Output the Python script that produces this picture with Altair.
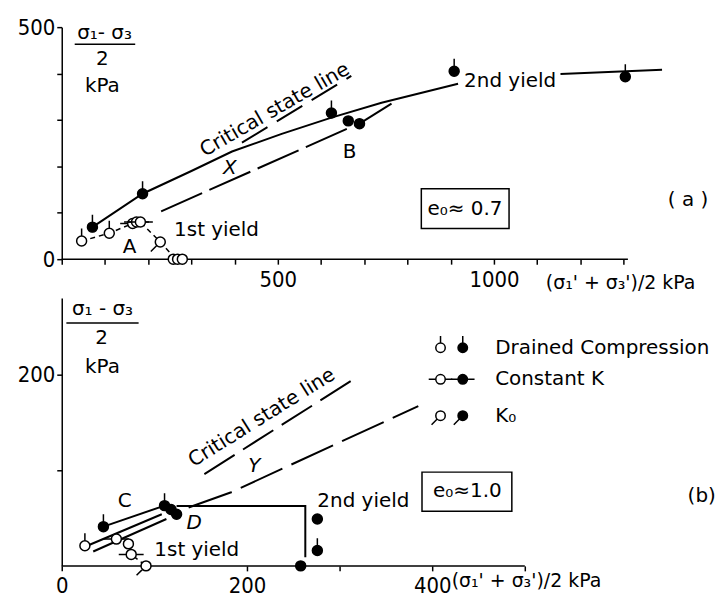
import altair as alt
import pandas as pd

TEXT_FONT = "DejaVu Sans"
NUM_FONT = "DejaVu Sans Condensed"

# Symbol outlines: unit circle plus the stem that marks the test path
CIRCLE = "M-1,0A1,1,0,1,1,1,0A1,1,0,1,1,-1,0Z"
SHAPE_KEYS = ["drained", "constK", "k0", "plain"]
SHAPE_PATHS = [
    CIRCLE + "M0,-1L0,-2.5",                 # drained compression
    CIRCLE + "M-2.5,0L-1,0M1,0L2.5,0",       # constant K
    CIRCLE + "M-0.7,0.7L-1.9,1.9",           # K0
    CIRCLE,
]

# ---------------- panel (a): e0 ~ 0.7 ----------------
A_PT_X = [71, 187, 624, 663, 689, 908, 1304, 46, 110, 164, 173, 182, 228, 258, 268, 279]
A_PT_Y = [69, 141, 315, 298, 292, 405, 393, 39, 56, 77, 80, 80, 37, 0, 0, 0]
A_PT_KIND = ["drained", "drained", "drained", "plain", "plain", "drained", "drained",
             "drained", "drained", "constK", "constK", "constK", "k0", "plain", "plain", "plain"]
A_PT_FILL = ["solid"] * 7 + ["open"] * 9

A_PATH_X = [71, 187, 300, 394, 509, 624, 740, 917]
A_PATH_Y = [69, 141, 190, 232, 270, 305, 337, 378]
A_B_X = [689, 763]
A_B_Y = [292, 335]
A_END_X = [1154, 1389]
A_END_Y = [399, 408]
A_Y1_X = [46, 110, 164, 182, 228, 262]
A_Y1_Y = [39, 56, 77, 80, 37, 2]
A_CSL_X = [417, 670]
A_CSL_Y = [251, 395]
A_XL_X = [230, 687]
A_XL_Y = [103, 292]

A_X_TICKS = list(range(0, 1400, 100))
A_X_LABELS = [500, 1000]
A_Y_TICKS = [0, 100, 200, 300, 400, 500]
A_Y_LABELS = [0, 500]

# ---------------- panel (b): e0 ~ 1.0 ----------------
B_PT_X = [45, 111, 118, 124, 276, 276, 258, 25, 59, 72, 75, 91]
B_PT_Y = [41, 63, 59, 54, 49, 16, 0, 21, 28, 23, 12, 0]
B_PT_KIND = ["drained", "drained", "plain", "plain", "plain", "drained", "plain",
             "drained", "constK", "plain", "constK", "k0"]
B_PT_FILL = ["solid"] * 7 + ["open"] * 5

B_C_X = [45, 111]
B_C_Y = [41, 63]
B_LOW1_X = [25, 108]
B_LOW1_Y = [20, 54]
B_LOW2_X = [34, 113]
B_LOW2_Y = [15, 49]
B_RECT_X = [124, 263, 263]
B_RECT_Y = [62.5, 62.5, 9]
B_Y1_X = [59, 72, 75, 91]
B_Y1_Y = [28, 23, 12, 0]
B_YL_X = [137, 183, 385]
B_YL_Y = [61, 77, 167]
B_CSL_X = [154, 320]
B_CSL_Y = [96, 198]

B_X_TICKS = [0, 200, 300, 400, 500]
B_X_LABELS = [0, 200, 400]
B_Y_TICKS = [100, 200]
B_Y_LABELS = [200]

LEG_TEXT = ["Drained Compression", "Constant K", "K\u2080"]
LEG_KIND = ["drained", "constK", "k0"]
LEG_Y = [228, 195, 157]


def make_axis(values, shown, domain):
    return alt.Axis(values=values, format="d", title=None, grid=False, domain=domain,
                    labelExpr=f"indexof({shown}, datum.value) >= 0 ? datum.label : ''",
                    labelFlush=False, labelOverlap=False)


def points_layer(xs, ys, kinds, fills, xe, ye, size=100):
    df = pd.DataFrame({"x": xs, "y": ys, "kind": kinds, "fill": fills})
    return alt.Chart(df).mark_point(filled=True, size=size, opacity=1, stroke="black",
                                    strokeWidth=1.5).encode(
        x=xe, y=ye,
        shape=alt.Shape("kind:N", scale=alt.Scale(domain=SHAPE_KEYS, range=SHAPE_PATHS), legend=None),
        fill=alt.Fill("fill:N", scale=alt.Scale(domain=["open", "solid"], range=["white", "black"]),
                      legend=None),
    )


def line_layer(xs, ys, xe, ye, dash=None, width=2):
    df = pd.DataFrame({"x": xs, "y": ys, "i": list(range(len(xs)))})
    kw = dict(color="black", strokeWidth=width)
    if dash:
        kw["strokeDash"] = dash
    return alt.Chart(df).mark_line(**kw).encode(x=xe, y=ye, order="i:Q")


def text_layer(texts, xs, ys, xe, ye, align="center", size=20, angle=None, italic=False):
    df = pd.DataFrame({"x": xs, "y": ys, "t": texts})
    kw = dict(align=align, baseline="middle", font=TEXT_FONT, fontSize=size, color="black")
    if angle is not None:
        kw["angle"] = angle
    if italic:
        kw["fontStyle"] = "italic"
    return alt.Chart(df).mark_text(**kw).encode(x=xe, y=ye, text="t:N")


def rule_layer(x1, x2, y, xe, ye, width=1.5):
    df = pd.DataFrame({"x": [x1], "x2": [x2], "y": [y]})
    return alt.Chart(df).mark_rule(color="black", strokeWidth=width).encode(
        x=xe, x2=alt.X2("x2:Q"), y=ye)


def box_layer(x1, x2, y1, y2, xe, ye):
    df = pd.DataFrame({"x": [x1], "x2": [x2], "y": [y1], "y2": [y2]})
    return alt.Chart(df).mark_rect(fillOpacity=0, stroke="black", strokeWidth=1.5).encode(
        x=xe, x2=alt.X2("x2:Q"), y=ye, y2=alt.Y2("y2:Q"))


# ---- panel (a) ----
xa = alt.X("x:Q", scale=alt.Scale(domain=[0, 1500], nice=False, zero=False),
           axis=make_axis(A_X_TICKS, A_X_LABELS, False))
ya = alt.Y("y:Q", scale=alt.Scale(domain=[0, 500], nice=False, zero=False),
           axis=make_axis(A_Y_TICKS, A_Y_LABELS, True))

panel_a = alt.layer(
    rule_layer(0, 1310, 0, xa, ya),
    line_layer(A_PATH_X, A_PATH_Y, xa, ya),
    line_layer(A_B_X, A_B_Y, xa, ya),
    line_layer(A_END_X, A_END_Y, xa, ya),
    line_layer(A_Y1_X, A_Y1_Y, xa, ya, dash=[5, 4], width=1.5),
    line_layer(A_CSL_X, A_CSL_Y, xa, ya, dash=[30, 11]),
    line_layer(A_XL_X, A_XL_Y, xa, ya, dash=[45, 8]),
    points_layer(A_PT_X, A_PT_Y, A_PT_KIND, A_PT_FILL, xa, ya),
    text_layer(["Critical state line"], [493], [322], xa, ya, angle=330),
    text_layer(["X"], [389], [197], xa, ya, italic=True),
    text_layer(["A", "B"], [157, 666], [26, 230], xa, ya),
    text_layer(["1st yield", "2nd yield"], [260, 931], [62, 384], xa, ya, align="left"),
    text_layer(["( a )"], [1449], [127], xa, ya),
    box_layer(832, 1035, 66, 152, xa, ya),
    text_layer(["e\u2080\u2248 0.7"], [933], [109], xa, ya),
    text_layer(["\u03c3\u2081- \u03c3\u2083", "2", "kPa"], [99, 94, 94], [487, 431, 373], xa, ya),
    rule_layer(30, 170, 463, xa, ya),
    text_layer(["(\u03c3\u2081' + \u03c3\u2083')/2 kPa"], [1120], [-51], xa, ya, align="left", size=19),
).properties(width=651, height=233)

# ---- panel (b) ----
xb = alt.X("x:Q", scale=alt.Scale(domain=[0, 700], nice=False, zero=False),
           axis=make_axis(B_X_TICKS, B_X_LABELS, False))
yb = alt.Y("y:Q", scale=alt.Scale(domain=[0, 280], nice=False, zero=False),
           axis=make_axis(B_Y_TICKS, B_Y_LABELS, True))

panel_b = alt.layer(
    rule_layer(0, 500, 0, xb, yb),
    line_layer(B_C_X, B_C_Y, xb, yb),
    line_layer(B_LOW1_X, B_LOW1_Y, xb, yb),
    line_layer(B_LOW2_X, B_LOW2_Y, xb, yb),
    line_layer(B_RECT_X, B_RECT_Y, xb, yb),
    line_layer(B_Y1_X, B_Y1_Y, xb, yb, dash=[5, 4], width=1.5),
    line_layer(B_YL_X, B_YL_Y, xb, yb, dash=[46, 10]),
    line_layer(B_CSL_X, B_CSL_Y, xb, yb, dash=[36, 10]),
    points_layer(B_PT_X, B_PT_Y, B_PT_KIND, B_PT_FILL, xb, yb),
    points_layer([409] * 3, LEG_Y, LEG_KIND, ["open"] * 3, xb, yb, size=90),
    points_layer([433] * 3, LEG_Y, LEG_KIND, ["solid"] * 3, xb, yb, size=90),
    text_layer(LEG_TEXT, [468] * 3, LEG_Y, xb, yb, align="left"),
    text_layer(["Critical state line"], [216], [155], xb, yb, angle=328),
    text_layer(["Y"], [208], [104], xb, yb, italic=True),
    text_layer(["C"], [68], [68], xb, yb),
    text_layer(["D"], [143], [45], xb, yb, italic=True),
    text_layer(["1st yield", "2nd yield"], [100, 276], [17, 68], xb, yb, align="left"),
    box_layer(389, 486, 57, 98, xb, yb),
    text_layer(["e\u2080\u22481.0"], [438], [78], xb, yb),
    text_layer(["(b)"], [691], [73], xb, yb),
    text_layer(["\u03c3\u2081 - \u03c3\u2083", "2", "kPa"], [44, 43, 44], [268, 238, 208], xb, yb),
    rule_layer(5, 83, 254, xb, yb),
    text_layer(["(\u03c3\u2081' + \u03c3\u2083')/2 kPa"], [421], [-16], xb, yb, align="left", size=19),
).properties(width=651, height=269)

chart = alt.vconcat(panel_a, panel_b, spacing=39, bounds="flush").properties(
    padding={"left": 17, "top": 15, "right": 0, "bottom": 0}
).configure_view(stroke=None).configure_axis(
    labelFont=NUM_FONT, labelFontSize=22, labelColor="black", tickColor="black",
    domainColor="black", tickWidth=1.5, domainWidth=1.5, tickSize=5, labelPadding=2,
    grid=False,
).configure_axisX(labelPadding=5)

chart.save("out.html", embed_options={"renderer": "svg", "actions": False})
